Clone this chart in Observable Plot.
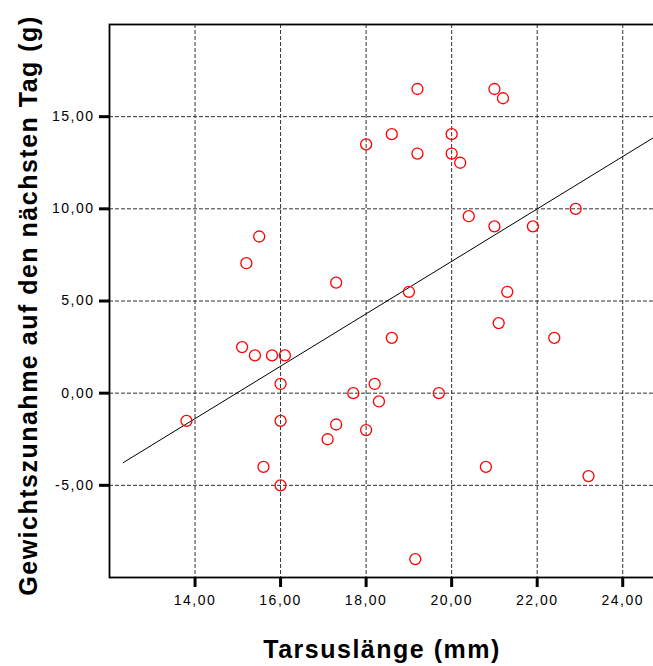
<!DOCTYPE html>
<html><head><meta charset="utf-8">
<script src="https://cdn.jsdelivr.net/npm/d3@7"></script>
<script src="https://cdn.jsdelivr.net/npm/@observablehq/plot@0.6"></script>
<style>
html,body{margin:0;padding:0;background:#fff;overflow:hidden;}
#chart{width:653px;height:666px;overflow:hidden;}
#chart svg{display:block;max-width:none !important;width:665px !important;height:666px !important;}
g[aria-label="x-axis tick label"] text, g[aria-label="y-axis tick label"] text{letter-spacing:1.5px;}
g[aria-label="text"] text{letter-spacing:1.5px;}
</style></head><body><div id="chart"></div>
<script>
const tarsus = [15.5, 15.2, 17.3, 18.6, 15.1, 15.4, 15.8, 16.1, 16.0, 13.8,
                16.0, 17.7, 18.2, 18.3, 17.3, 17.1, 18.0, 15.6, 16.0, 19.2,
                21.0, 21.2, 18.0, 18.6, 19.2, 20.0, 20.0, 20.2, 22.9, 20.4,
                21.0, 21.9, 19.0, 21.3, 21.1, 22.4, 20.8, 23.2, 19.15, 19.7];
const gain   = [8.5, 7.05, 6.0, 3.0, 2.5, 2.05, 2.05, 2.05, 0.5, -1.5,
                -1.5, 0.0, 0.5, -0.45, -1.7, -2.5, -2.0, -4.0, -5.0, 16.5,
                16.5, 16.0, 13.5, 14.05, 13.0, 14.05, 13.0, 12.5, 10.0, 9.6,
                9.05, 9.05, 5.5, 5.5, 3.8, 3.0, -4.0, -4.5, -9.0, 0.0];
const xTicks = [14, 16, 18, 20, 22, 24];
const yTicks = [-5, 0, 5, 10, 15];
const xDomain = [12, 25];
const yDomain = [-10, 20];
const fitIntercept = -21.29;
const fitSlope = 1.422;
const fitXRange = [12.32, 25];
const xTitle = "Tarsuslänge (mm)";
const yTitle = "Gewichtszunahme auf den nächsten Tag (g)";

const fmt = d => d.toFixed(2).replace(".", ",");
const points = tarsus.map((x, i) => ({x, y: gain[i]}));
const fit = fitXRange.map(x => ({x, y: fitIntercept + fitSlope * x}));
const font = '"Liberation Sans", Arial, sans-serif';

const chart = Plot.plot({
  width: 665, height: 666,
  marginLeft: 109, marginRight: 0, marginTop: 24, marginBottom: 89,
  style: {background: "#fff", fontFamily: font, fontSize: "14px", color: "#000", overflow: "visible"},
  x: {domain: xDomain},
  y: {domain: yDomain},
  marks: [
    Plot.gridX(xTicks, {stroke: "#303030", strokeOpacity: 1, strokeWidth: 1, strokeDasharray: "4,2"}),
    Plot.gridY(yTicks, {stroke: "#303030", strokeOpacity: 1, strokeWidth: 1, strokeDasharray: "4,2"}),
    Plot.axisX(xTicks, {tickSize: 10, tickPadding: 8, tickFormat: fmt, strokeWidth: 3, stroke: "#000", fill: "#000", label: null, fontSize: 14}),
    Plot.axisY(yTicks, {tickSize: 10, tickPadding: 5, tickFormat: fmt, strokeWidth: 3, stroke: "#000", fill: "#000", label: null, fontSize: 14}),
    Plot.line(fit, {x: "x", y: "y", stroke: "#000", strokeWidth: 1, clip: true}),
    Plot.dot(points, {x: "x", y: "y", r: 5.5, stroke: "#ff0000", strokeWidth: 1.3, fill: "none"}),
    Plot.frame({stroke: "#000", strokeWidth: 1.8}),
    Plot.text([xTitle], {text: d => d, frameAnchor: "bottom", dy: 72, dx: -5.5, lineAnchor: "middle", textAnchor: "middle",
      fontSize: 25, fontWeight: "bold", fill: "#000"}),
    Plot.text([yTitle], {text: d => d, frameAnchor: "left", rotate: -90, dx: -81, dy: 4.5, lineAnchor: "middle", textAnchor: "middle",
      fontSize: 25, fontWeight: "bold", fill: "#000"})
  ]
});
document.getElementById("chart").appendChild(chart);
</script>
</body></html>
